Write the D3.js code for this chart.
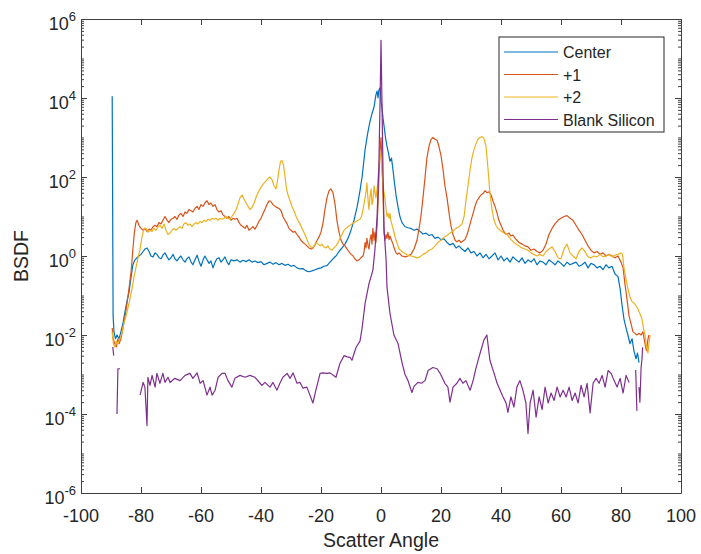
<!doctype html>
<html>
  <head>
    <script src="https://cdnjs.cloudflare.com/ajax/libs/d3/7.8.5/d3.min.js"></script>
    <style>
      body { margin: 0; background: #fff; }
      text { font-family: "Liberation Sans", Arial, sans-serif; fill: #262626; }
    </style>
  </head>
  <body>
    <svg id="chart" width="701" height="554"></svg>
    <script>
        // [scatter angle (deg), BSDF]; null = gap in the measurement
        var center = [[-89.6,1.1e4],[-89.3,0.03],[-89,0.012],[-88.5,0.008],[-88,0.01],[-87.3,0.008],[-86.7,0.012],[-86,0.02],[-85.3,0.04],[-84.7,0.07],[-84,0.12],[-83.3,0.3],[-82.7,0.6],[-82,0.8],[-81.3,0.9],[-80.7,1.0],[-80,1.1],[-79.3,1.3],[-78.7,1.5],[-78,1.6],[-77.3,1.3],[-76.7,1.0],[-76,0.95],[-75.3,1.2],[-74.7,1.1],[-74,0.9],[-73.3,0.85],[-72.7,1.05],[-72,1.2],[-71.3,0.95],[-70.7,0.8],[-70,0.9],[-69.3,1.1],[-68.7,0.85],[-68,0.75],[-67.3,0.9],[-66.7,1.0],[-66,0.8],[-65.3,0.7],[-64.7,0.85],[-64,0.95],[-63.3,0.7],[-62.7,0.6],[-62,0.8],[-61.3,1.05],[-60.7,0.75],[-60,0.55],[-59.3,0.8],[-58.7,1.0],[-58,0.8],[-57.3,0.65],[-56.7,0.75],[-56,0.5],[-55.3,0.7],[-54.7,0.85],[-54,0.9],[-53.3,0.7],[-52.7,0.8],[-52,0.95],[-51.3,0.7],[-50.7,0.6],[-50,0.8],[-49,0.75],[-48,0.8],[-47,0.7],[-46,0.78],[-45,0.72],[-44,0.8],[-43,0.7],[-42,0.75],[-41,0.68],[-40,0.72],[-39,0.6],[-38,0.65],[-37,0.7],[-36,0.62],[-35,0.68],[-34,0.6],[-33,0.65],[-32,0.58],[-31,0.62],[-30,0.55],[-29,0.58],[-28,0.5],[-27,0.47],[-26,0.48],[-25,0.42],[-24,0.4],[-23,0.42],[-22,0.45],[-21,0.48],[-20,0.5],[-19,0.55],[-18,0.57],[-17,0.7],[-16,0.85],[-15,1.0],[-14,1.3],[-13,1.6],[-12,2.0],[-11,2.8],[-10,4.5],[-9,8],[-8,17],[-7,45],[-6.3,100],[-5.3,500],[-4.5,1200],[-3.7,2500],[-3,4000],[-2.3,6000],[-1.7,1.2e4],[-1.3,1.5e4],[-1,1.0e4],[-0.7,1.6e4],[-0.3,1.8e4],[0,8000],[0.3,6000],[0.7,3000],[1,2000],[1.5,1000],[2,600],[2.5,400],[3,250],[3.5,300],[4,150],[4.5,70],[5,35],[5.7,17],[6.3,10],[7,7],[8,5.5],[9,5.2],[10,5],[11,4.5],[12,4.8],[13,4.2],[14,3.6],[15,3.8],[16,3.3],[17,3.5],[18,2.8],[19,3.0],[20,2.6],[21,2.7],[22,2.2],[23,1.9],[24,2.1],[25,1.6],[26,1.8],[27,1.5],[28,1.3],[29,1.6],[30,1.2],[31,1.3],[32,1.0],[33,1.2],[34,0.9],[35,1.1],[36,0.85],[37,1.0],[38,1.2],[39,0.8],[40,1.0],[41,0.75],[42,0.9],[43,0.7],[44,0.95],[45,0.8],[46,0.7],[47,0.9],[48,0.65],[49,0.8],[50,0.7],[51,0.85],[52,0.6],[53,0.75],[54,0.7],[55,0.6],[56,0.8],[57,0.7],[58,0.6],[59,0.75],[60,0.65],[61,0.55],[62,0.7],[63,0.6],[64,0.65],[65,0.7],[66,0.55],[67,0.6],[68,0.7],[69,0.5],[70,0.65],[71,0.6],[72,0.5],[73,0.55],[74,0.45],[75,0.6],[76,0.5],[77,0.55],[78,0.35],[79,0.3],[79.7,0.15],[80.3,0.06],[81,0.025],[81.7,0.015],[82.3,0.01],[83,0.006],[83.7,0.008],[84.3,0.004],[85,0.0025],[85.5,0.0035],[86,0.002]];

        var plus1 = [[-89.6,0.015],[-89.3,0.008],[-88.7,0.006],[-88.2,0.005],[-87.7,0.008],[-87.3,0.006],[-86.7,0.008],[-86,0.015],[-85.3,0.03],[-84.7,0.06],[-84,0.15],[-83.3,0.4],[-82.7,1.5],[-82.2,4],[-81.7,7],[-81.3,8],[-80.7,6],[-80,5],[-79.3,4.5],[-78.7,5],[-78,4.2],[-77.3,4.8],[-76.7,4.5],[-76,5.5],[-75.3,6],[-74.7,5.5],[-74,7],[-73.3,6.5],[-72.7,8],[-72,10],[-71.3,8],[-70.7,7],[-70,8.5],[-69.3,9],[-68.7,10],[-68,8.5],[-67.3,11],[-66.7,12],[-66,10],[-65.3,13],[-64.7,12],[-64,15],[-63.3,14],[-62.7,13],[-62,16],[-61.3,18],[-60.7,15],[-60,20],[-59.3,18],[-58.7,22],[-58,25],[-57.3,20],[-56.7,22],[-56,18],[-55.3,20],[-54.7,15],[-54,13],[-53.3,14],[-52.7,11],[-52,10],[-51.3,9],[-50.7,10],[-50,8],[-49.3,9],[-48.7,8.5],[-48,9],[-47.3,7],[-46.7,6],[-46,5.5],[-45.3,5],[-44.7,6],[-44,4.5],[-43.3,5],[-42.7,5.5],[-42,4.8],[-41.3,6],[-40.7,7.5],[-40,9],[-39.3,12],[-38.7,15],[-38,20],[-37.3,25],[-36.7,24],[-36,20],[-35.3,18],[-34.7,17],[-34,16],[-33.3,14],[-32.7,10],[-32,8],[-31.3,6.5],[-30.7,5],[-30,4.5],[-29.3,4],[-28.7,4.2],[-28,3.5],[-27.3,3],[-26.7,2.5],[-26,2.2],[-25.3,2.0],[-24.7,1.8],[-24,1.6],[-23.3,1.5],[-22.7,1.6],[-22,1.9],[-21.3,2.5],[-20.7,3],[-20,4],[-19.3,7],[-18.7,15],[-18,30],[-17.3,45],[-16.7,50],[-16,40],[-15.3,20],[-14.7,8],[-14,4],[-13.3,2.5],[-12.7,2],[-12,1.8],[-11.3,1.5],[-10.7,1.3],[-10,1.1],[-9.3,1.0],[-8.7,0.85],[-8,0.75],[-7.3,0.8],[-6.7,0.9],[-6,1.0],[-5.7,1.2],[-5.3,2.2],[-5,1.6],[-4.7,2.8],[-4.3,1.8],[-4,1.5],[-3.7,2.5],[-3.3,3.5],[-3,2],[-2.7,5],[-2.3,2.5],[-2,4],[-1.7,2.2],[-1.3,6],[-1,20],[-0.7,100],[-0.3,500],[0,1000],[0.3,300],[0.7,30],[1,4],[1.3,2.5],[1.7,3.5],[2,2.8],[2.3,4],[2.7,2.6],[3,3.2],[3.5,2.5],[4,2],[4.5,1.5],[5,1.2],[5.5,1.1],[6,1.2],[7,1.0],[8,0.95],[9,1.0],[10,1.1],[11,1.5],[12,2.5],[12.7,5],[13.3,10],[14,30],[14.7,100],[15.3,300],[16,600],[16.7,900],[17.3,1000],[18,900],[18.7,850],[19.3,600],[20,350],[20.7,150],[21.3,60],[22,30],[22.7,12],[23.3,6],[24,3.5],[24.7,2.5],[25.3,2.3],[26,2.5],[26.7,2.2],[27.3,2.4],[28,2.6],[28.7,3.5],[29.3,5],[30,8],[30.7,12],[31.3,18],[32,25],[32.7,30],[33.3,35],[34,38],[34.7,45],[35.3,40],[36,42],[36.7,35],[37.3,25],[38,18],[38.7,12],[39.3,8],[40,6],[40.7,4.5],[41.3,3.8],[42,3.5],[42.7,3.8],[43.3,3.2],[44,3.4],[44.7,2.8],[45.3,2.5],[46,2.2],[47,2.0],[48,1.8],[49,1.7],[50,1.4],[51,1.5],[52,1.3],[53,1.2],[54,1.4],[55,2],[56,3.5],[57,5],[58,6.5],[59,8],[60,9],[61,10],[62,10.5],[63,9],[64,8],[65,6],[66,4.5],[67,3.5],[68,2.5],[69,1.8],[70,1.4],[71,1.2],[72,1.3],[73,1.1],[74,1.2],[75,1.0],[76,1.1],[77,1.0],[78,0.9],[79,1.0],[80,0.7],[80.7,0.5],[81.3,0.2],[82,0.08],[82.7,0.03],[83.3,0.02],[84,0.012],[84.7,0.011],[85.3,0.01],[86,0.011],[86.7,0.01],[87.3,0.012],[88,0.006],[88.5,0.004],[89,0.008],[89.3,0.01]];

        var plus2 = [[-89.6,0.012],[-89.2,0.006],[-88.7,0.005],[-88.2,0.007],[-87.7,0.006],[-87,0.008],[-86.3,0.012],[-85.7,0.02],[-85,0.03],[-84.3,0.05],[-83.7,0.08],[-83,0.15],[-82.3,0.3],[-81.7,0.5],[-81,0.9],[-80.3,1.5],[-79.7,3],[-79,5],[-78.3,5],[-77.7,4],[-77,4.5],[-76.3,4.2],[-75.7,5],[-75,4.5],[-74.3,5.5],[-73.7,6],[-73,5],[-72.3,6.5],[-71.7,4.5],[-71,3.5],[-70.3,3.8],[-69.7,4.5],[-69,5],[-68.3,4.5],[-67.7,5],[-67,5.5],[-66.3,5],[-65.7,6.5],[-65,7],[-64.3,6],[-63.7,6.5],[-63,5.5],[-62.3,6.5],[-61.7,7],[-61,6.5],[-60.3,7.5],[-59.7,7],[-59,8],[-58.3,7.5],[-57.7,8.5],[-57,8],[-56.3,9],[-55.7,8.5],[-55,9],[-54.3,8],[-53.7,9],[-53,8.5],[-52.3,9],[-51.7,10],[-51,9],[-50.3,8.5],[-49.7,10],[-49,12],[-48.3,15],[-47.7,20],[-47,30],[-46.3,35],[-45.7,28],[-45,22],[-44.3,18],[-43.7,15],[-43,17],[-42.3,22],[-41.7,30],[-41,40],[-40.3,50],[-39.7,60],[-39,70],[-38.3,80],[-37.7,90],[-37,100],[-36.3,85],[-35.7,60],[-35,50],[-34.5,80],[-34,150],[-33.5,250],[-33,260],[-32.5,200],[-32,100],[-31.5,50],[-31,35],[-30.3,25],[-29.7,18],[-29,14],[-28.3,10],[-27.7,8],[-27,6.5],[-26.3,5],[-25.7,4],[-25,3],[-24.3,2.2],[-23.7,1.8],[-23,1.6],[-22.3,1.8],[-21.7,2.2],[-21,2],[-20.3,1.8],[-19.7,2.0],[-19,1.7],[-18.3,1.6],[-17.7,1.8],[-17,1.5],[-16.3,1.4],[-15.7,1.6],[-15,1.8],[-14.3,2.2],[-13.7,2.8],[-13,3.5],[-12.3,4.5],[-11.7,5],[-11,5.5],[-10.3,6],[-9.7,6.5],[-9,7],[-8.3,7.5],[-7.7,8],[-7,8.5],[-6.5,10],[-6,15],[-5.5,25],[-5,40],[-4.7,70],[-4.3,25],[-4,15],[-3.7,30],[-3.3,50],[-3,20],[-2.7,25],[-2.3,60],[-2,40],[-1.7,30],[-1.3,50],[-1,80],[-0.7,200],[-0.3,400],[0,300],[0.3,150],[0.7,60],[1,40],[1.3,30],[1.7,15],[2,10],[2.3,12],[2.7,9],[3,12],[3.3,8],[3.7,6],[4,5],[4.5,3.5],[5,2.5],[5.5,2.0],[6,1.5],[7,1.3],[8,1.15],[9,1.05],[10,1.0],[11,0.95],[12,0.9],[13,0.95],[14,1.1],[15,1.2],[16,1.4],[17,1.5],[18,1.8],[19,2.2],[20,2.5],[21,3.0],[22,3.3],[23,3.8],[24,4.2],[25,5],[26,5.5],[27,6.5],[27.7,10],[28.3,25],[29,60],[29.7,150],[30.3,300],[31,500],[31.7,700],[32.3,900],[33,1000],[33.7,1050],[34.3,950],[35,600],[35.7,150],[36.3,40],[37,15],[37.7,8],[38.3,6],[39,5],[40,4.3],[41,3.8],[42,3.5],[43,2.8],[44,2.3],[45,2.0],[46,1.8],[47,1.6],[48,1.5],[49,1.4],[50,1.2],[51,1.1],[52,1.0],[53,1.1],[54,1.0],[55,1.3],[56,1.5],[57,1.7],[58,1.3],[59,0.9],[60,0.85],[61,1.5],[62,2.0],[63,1.2],[64,1.0],[65,0.85],[66,1.3],[67,1.6],[68,1.3],[69,0.95],[70,0.9],[71,1.0],[72,0.95],[73,1.1],[74,0.95],[75,1.0],[76,1.1],[77,0.95],[78,1.05],[79,1.1],[80,1.2],[80.5,1.1],[81,0.5],[81.7,0.25],[82.3,0.15],[83,0.09],[83.7,0.07],[84.3,0.065],[85,0.055],[85.7,0.045],[86.3,0.035],[87,0.025],[87.5,0.015],[88,0.01],[88.5,0.005],[89,0.0035],[89.3,0.006],[89.7,0.01]];

        var blank = [[-89.4,0.005],[-89.1,0.003],[-88.6,null],[-88,1.0e-4],[-87.7,1.4e-3],[-87,1.4e-3],[-84,null],[-80.3,3e-4],[-79.3,6.3e-4],[-78.7,4.8e-4],[-78,5.1e-5],[-77.7,8.5e-4],[-77,5.3e-4],[-76.3,9.5e-4],[-75.3,4.8e-4],[-74.7,1.07e-3],[-73.7,6e-4],[-72.7,1.07e-3],[-72,6.3e-4],[-71,8.5e-4],[-70.3,6.3e-4],[-68.7,8e-4],[-67,7e-4],[-65.3,9.5e-4],[-63.7,1.07e-3],[-62.7,8e-4],[-61.3,1.1e-3],[-60.3,6e-4],[-59.3,7e-4],[-58,3e-4],[-57,4.8e-4],[-56.3,3e-4],[-55.3,4e-4],[-54.3,8.5e-4],[-53,1.07e-3],[-52,1.07e-3],[-51,7e-4],[-49.7,4.8e-4],[-48.7,8e-4],[-47,9.5e-4],[-45.3,8.5e-4],[-43.7,9.5e-4],[-42,8.5e-4],[-40.3,6e-4],[-39.7,5.3e-4],[-38.7,6.3e-4],[-37,4.8e-4],[-36,6.3e-4],[-34.7,4e-4],[-33.7,6e-4],[-32.7,8.5e-4],[-31.3,1.07e-3],[-30.3,8e-4],[-29.3,1.1e-3],[-28,6e-4],[-27,6.3e-4],[-26,4.5e-4],[-24.7,4.8e-4],[-23.7,3e-4],[-22.7,1.9e-4],[-21.7,4e-4],[-20.3,1.07e-3],[-19.3,1.1e-3],[-18,1.07e-3],[-17,1.1e-3],[-15,8.5e-4],[-13.7,1.9e-3],[-12.3,3e-3],[-11.3,2.8e-3],[-10.3,2.7e-3],[-9.7,2.3e-3],[-8.3,4.9e-3],[-7,7e-3],[-6.3,0.015],[-5.3,0.063],[-4,0.2],[-2.7,0.44],[-2,1.5],[-1.3,10],[-0.7,200],[-0.3,1e4],[0,2.9e5],[0.3,1e4],[0.7,100],[1,5],[1.7,0.8],[2,0.16],[3,0.035],[4.3,0.01],[5.7,6e-3],[7,2e-3],[8,1e-3],[9,7e-4],[10.3,3.5e-4],[11,5e-4],[12.3,6.3e-4],[13.5,6e-4],[14.7,7e-4],[15.7,1.26e-3],[17.3,1.5e-3],[18.7,1.4e-3],[19.7,1.07e-3],[21.3,6e-4],[22.3,4.8e-4],[23,2e-4],[24,4.8e-4],[25.3,6e-4],[26.3,8e-4],[27.3,6e-4],[28.3,7e-4],[29.7,4e-4],[30.7,7e-4],[31.7,1.5e-3],[33,3.4e-3],[34.3,7.4e-3],[35.3,0.01],[36.3,2.3e-3],[37.7,1.07e-3],[38.7,6e-4],[39.7,4e-4],[40.7,2.7e-4],[41.7,1.9e-4],[42.3,1.1e-4],[43.3,2.7e-4],[44.3,1.5e-4],[45.3,4.8e-4],[46.3,7e-4],[47.3,4e-4],[48.3,1.9e-4],[49,3.2e-5],[49.7,1.9e-4],[50.7,4e-4],[51.7,8.3e-5],[52.7,2.7e-4],[53.7,1.3e-4],[54.7,4.8e-4],[55.7,1.9e-4],[56.7,3.4e-4],[57.7,2.2e-4],[58.7,4.8e-4],[59.7,2.7e-4],[60.7,4e-4],[61.7,2.7e-4],[62.7,4.8e-4],[63.7,2.2e-4],[64.7,3.4e-4],[65.7,1.9e-4],[66.7,5.3e-4],[67.7,2.7e-4],[68.7,6e-4],[69.7,1.07e-4],[70.7,6e-4],[71.7,8e-4],[72.7,6e-4],[73.7,9.5e-4],[74.7,4.8e-4],[75.7,1.26e-3],[76.7,1.07e-3],[77.7,7e-4],[78.7,4.8e-4],[79.7,8e-4],[80.7,3.4e-4],[81.7,9.5e-4],[82.7,6.3e-4],[83.8,null],[84.9,1.3e-3],[85.3,1.2e-4],[85.6,null],[86,4.8e-4],[86.3,2e-4],[86.7,1.5e-3],[87,2.5e-3],[87.2,4.9e-3]];

        var seriesNames = ["Center", "+1", "+2", "Blank Silicon"];
        var seriesData = [center, plus1, plus2, blank];
        var colours = ["#0072BD", "#D95319", "#EDB120", "#7E2F8E"];
        var xTicks = [-100, -80, -60, -40, -20, 0, 20, 40, 60, 80, 100];
        var yTickExp = [-6, -4, -2, 0, 2, 4, 6];

        var plotL = 81, plotR = 681, plotT = 19, plotB = 493;
        var svg = d3.select("#chart");

        var x = d3.scaleLinear().domain([-100, 100]).range([plotL, plotR]);
        var y = d3.scaleLog().domain([1e-6, 1e6]).range([plotB, plotT]);

        // minor ticks: every 1..9 x 10^k that is not a labelled decade
        var minor = [];
        for (var k = -6; k < 6; k++) {
            for (var m = 1; m < 10; m++) {
                if (m == 1 && yTickExp.indexOf(k) >= 0) continue;
                minor.push(m * Math.pow(10, k));
            }
        }
        var majors = yTickExp.map(e => Math.pow(10, e));

        svg.append("defs").append("clipPath").attr("id", "clip")
            .append("rect").attr("x", plotL).attr("y", plotT)
            .attr("width", plotR - plotL).attr("height", plotB - plotT);

        var axisCol = "#404040";
        function styleAxis(g) {
            g.selectAll("path, line").attr("stroke", axisCol);
            g.selectAll("text").remove();
        }

        svg.append("g").attr("transform", "translate(0," + plotB + ")")
            .call(d3.axisBottom(x).tickValues(xTicks).tickSize(-6).tickSizeOuter(0)).call(styleAxis);
        svg.append("g").attr("transform", "translate(0," + plotT + ")")
            .call(d3.axisTop(x).tickValues(xTicks).tickSize(-6).tickSizeOuter(0)).call(styleAxis);
        svg.append("g").attr("transform", "translate(" + plotL + ",0)")
            .call(d3.axisLeft(y).tickValues(majors).tickSize(-6).tickSizeOuter(0)).call(styleAxis);
        svg.append("g").attr("transform", "translate(" + plotR + ",0)")
            .call(d3.axisRight(y).tickValues(majors).tickSize(-6).tickSizeOuter(0)).call(styleAxis);
        svg.append("g").attr("transform", "translate(" + plotL + ",0)")
            .call(d3.axisLeft(y).tickValues(minor).tickSize(-3).tickSizeOuter(0)).call(styleAxis)
            .select(".domain").remove();
        svg.append("g").attr("transform", "translate(" + plotR + ",0)")
            .call(d3.axisRight(y).tickValues(minor).tickSize(-3).tickSizeOuter(0)).call(styleAxis)
            .select(".domain").remove();

        // tick labels
        svg.append("g").selectAll("text").data(xTicks).enter().append("text")
            .attr("x", d => x(d)).attr("y", plotB + 29)
            .attr("text-anchor", "middle").style("font-size", "18px")
            .text(d => d);

        var yl = svg.append("g").selectAll("text").data(yTickExp).enter().append("text")
            .attr("x", plotL - 5).attr("y", d => y(Math.pow(10, d)) + 11)
            .attr("text-anchor", "end").style("font-size", "18px");
        yl.append("tspan").text("10");
        yl.append("tspan").attr("dy", -9).style("font-size", "13px").text(d => d);

        svg.append("text").attr("x", (plotL + plotR) / 2).attr("y", 547)
            .attr("text-anchor", "middle").style("font-size", "19.5px").text("Scatter Angle");
        svg.append("text").attr("transform", "translate(28," + ((plotT + plotB) / 2) + ") rotate(-90)")
            .attr("text-anchor", "middle").style("font-size", "19.5px").text("BSDF");

        // lines
        var line = d3.line()
            .defined(d => d[1] != null)
            .x(d => x(d[0]))
            .y(d => y(d[1]));

        svg.append("g").attr("clip-path", "url(#clip)")
            .selectAll("path").data(seriesData).enter().append("path")
            .attr("d", line)
            .attr("fill", "none")
            .attr("stroke", (d, i) => colours[i])
            .attr("stroke-width", 1.2)
            .attr("stroke-linejoin", "round");

        // legend
        var lg = svg.append("g").attr("transform", "translate(499,37)");
        lg.append("rect").attr("width", 165).attr("height", 95)
            .attr("fill", "#fff").attr("stroke", "#262626").attr("stroke-width", 1);
        var rows = lg.selectAll("g").data(seriesNames).enter().append("g")
            .attr("transform", (d, i) => "translate(0," + (15 + i * 22.5) + ")");
        rows.append("line").attr("x1", 5).attr("x2", 59)
            .attr("stroke", (d, i) => colours[i]).attr("stroke-width", 1.2);
        rows.append("text").attr("x", 64).attr("y", 6)
            .style("font-size", "16px").text(d => d);
    </script>
  </body>
</html>
